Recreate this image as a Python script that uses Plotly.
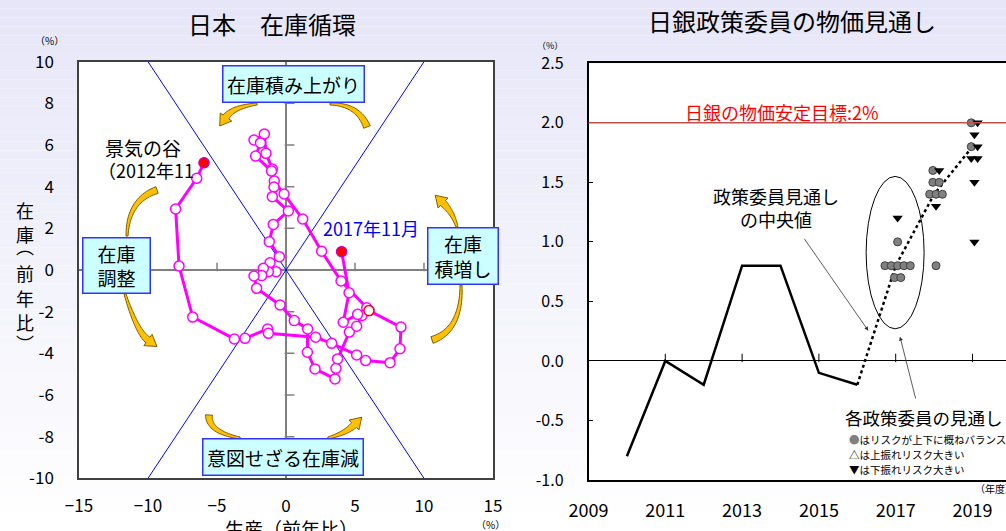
import plotly.graph_objects as go

W, H = 1006, 531
FONT = "Noto Sans CJK JP"

# ---------------- Data: left chart (Japan inventory cycle, 2012/11 -> 2017/11) -------------
prod_yoy = [-5.94, -6.47, -8.00, -7.75, -6.76, -3.74, -2.97, -1.33, -1.28, 2.15,
            3.31, 5.12, 5.77, 7.54, 8.26, 8.33, 6.01, 5.85, 3.99, 2.58,
            1.21, -0.14, -0.85, -0.99, -1.45, -1.57, -2.32, -1.85, -2.20, -1.05,
            -0.87, -0.99, 0.17, -0.92, -1.21, -0.48, -1.16, -0.72, -1.28, -1.64,
            -1.76, -2.32, -2.13, -0.43, 0.60, 1.57, 1.55, 2.10, 3.55, 3.62,
            3.74, 4.59, 5.12, 5.51, 5.19, 4.15, 4.57, 4.03]
inv_yoy = [5.15, 4.40, 2.93, 0.19, -2.26, -3.31, -3.28, -2.83, -3.04, -3.23,
           -3.52, -4.08, -4.35, -4.45, -3.78, -2.74, -1.95, -1.81, -0.53, 0.90,
           2.45, 3.65, 4.27, 4.85, 5.60, 6.53, 6.24, 6.10, 5.47, 4.75,
           3.98, 3.52, 2.83, 2.19, 1.36, 0.64, 0.35, -0.08, -0.08, 0.08,
           -0.27, -0.29, -0.88, -1.68, -2.43, -2.83, -3.95, -4.75, -5.23, -4.72,
           -4.27, -2.98, -2.70, -2.18, -2.13, -2.51, -1.09, 0.88]
ring_index = 16                      # point drawn with a red ring
diag_ends = [-10, 10]
left_xticks = [-15, -10, -5, 0, 5, 10, 15]
left_xtext = ["\u221215", "\u221210", "\u22125", "0", "5", "10", "15"]
left_yticks = [-10, -8, -6, -4, -2, 0, 2, 4, 6, 8, 10]
left_ytext = ["-10", "-8", "-6", "-4", "-2", "0", "2", "4", "6", "8", "10"]
zero_xticks = [-10, -5, 5, 10]
zero_yticks = [-8, -6, -4, -2, 2, 4, 6, 8]

# ---------------- Data: right chart (BoJ board price outlook) ----------------
fy_actual = [2010, 2011, 2012, 2013, 2014, 2015, 2016]
cpi_actual = [-0.8, 0.0, -0.2, 0.8, 0.8, -0.1, -0.2]
fy_median = [2017, 2018, 2019]
cpi_median = [0.8, 1.4, 1.8]
member_fy = [2017] * 9 + [2018] * 9 + [2019] * 9
member_val = [0.8, 0.8, 0.8, 0.8, 0.8, 0.7, 0.7, 1.0, 1.2,
              1.6, 1.6, 1.5, 1.5, 1.4, 1.4, 1.4, 1.3, 0.8,
              2.0, 2.0, 1.9, 1.8, 1.8, 1.7, 1.7, 1.5, 1.0]
member_risk = ["bal", "bal", "bal", "bal", "bal", "bal", "bal", "bal", "down",
               "bal", "down", "bal", "bal", "bal", "bal", "bal", "down", "bal",
               "bal", "down", "down", "bal", "down", "down", "down", "down", "down"]
target = 2.0
right_xticks = [2009, 2011, 2013, 2015, 2017, 2019]
right_yticks = [-1.0, -0.5, 0.0, 0.5, 1.0, 1.5, 2.0, 2.5]
right_ytext = ["-1.0", "-0.5", "0.0", "0.5", "1.0", "1.5", "2.0", "2.5"]
zero_year_ticks = [2011, 2013, 2015, 2017, 2019]


def PX(x):
    return x / W


def PY(y):
    return 1 - y / H


# plot areas (pixels)
L_X0, L_X1, L_Y0, L_Y1 = 79, 493, 61.7, 478.3
R_X0, R_X1, R_Y0, R_Y1 = 588.5, 1006, 63.3, 480
R_XMIN = 2009
R_XMAX = 2009 + (R_X1 - R_X0) / 38.4

fig = go.Figure()

# ---- left chart traces
fig.add_trace(go.Scatter(x=diag_ends, y=diag_ends, mode="lines",
                         line=dict(color="#0000FF", width=1), xaxis="x", yaxis="y", hoverinfo="skip"))
fig.add_trace(go.Scatter(x=diag_ends, y=diag_ends[::-1], mode="lines",
                         line=dict(color="#0000FF", width=1), xaxis="x", yaxis="y", hoverinfo="skip"))

# tick marks on the zero lines
lx_per_px = 30 / (L_X1 - L_X0)
ly_per_px = 20 / (L_Y1 - L_Y0)
fig.add_trace(go.Scatter(x=zero_xticks, y=[3 * ly_per_px] * len(zero_xticks), mode="markers",
                         marker=dict(symbol="line-ns", size=6, line=dict(color="#808080", width=1.5)),
                         xaxis="x", yaxis="y", hoverinfo="skip"))
fig.add_trace(go.Scatter(x=[3.5 * lx_per_px] * len(zero_yticks), y=zero_yticks, mode="markers",
                         marker=dict(symbol="line-ew", size=7, line=dict(color="#808080", width=1.5)),
                         xaxis="x", yaxis="y", hoverinfo="skip"))

fig.add_trace(go.Scatter(x=prod_yoy, y=inv_yoy, mode="lines+markers",
                         line=dict(color="#FF00FF", width=3),
                         marker=dict(symbol="circle", size=10, color="white",
                                     line=dict(color="#FF00FF", width=1.5)),
                         xaxis="x", yaxis="y", hoverinfo="skip"))
fig.add_trace(go.Scatter(x=[prod_yoy[ring_index]], y=[inv_yoy[ring_index]], mode="markers",
                         marker=dict(symbol="circle", size=10, color="white",
                                     line=dict(color="#FF0000", width=1.5)),
                         xaxis="x", yaxis="y", hoverinfo="skip"))
fig.add_trace(go.Scatter(x=[prod_yoy[0], prod_yoy[-1]], y=[inv_yoy[0], inv_yoy[-1]], mode="markers",
                         marker=dict(symbol="circle", size=10, color="#FF0000",
                                     line=dict(color="#C000C0", width=1)),
                         xaxis="x", yaxis="y", hoverinfo="skip"))

# ---- right chart traces
ry_per_px = 3.5 / (R_Y1 - R_Y0)
fig.add_trace(go.Scatter(x=zero_year_ticks, y=[3 * ry_per_px] * len(zero_year_ticks), mode="markers",
                         marker=dict(symbol="line-ns", size=6, line=dict(color="black", width=1)),
                         xaxis="x2", yaxis="y2", hoverinfo="skip"))
fig.add_trace(go.Scatter(x=fy_actual, y=cpi_actual, mode="lines",
                         line=dict(color="black", width=2.5), xaxis="x2", yaxis="y2", hoverinfo="skip"))
fig.add_trace(go.Scatter(x=[fy_actual[-1]] + fy_median, y=[cpi_actual[-1]] + cpi_median, mode="lines",
                         line=dict(color="black", width=2.5, dash="dot"),
                         xaxis="x2", yaxis="y2", hoverinfo="skip"))

# spread members with equal values side by side
spacing = 0.165
groups = {}
for i, (fy, v) in enumerate(zip(member_fy, member_val)):
    groups.setdefault((fy, v), []).append(i)
mx = [0.0] * len(member_fy)
for (fy, v), idx in groups.items():
    idx = sorted(idx, key=lambda k: 0 if member_risk[k] == "bal" else 1)
    n = len(idx)
    for j, k in enumerate(idx):
        mx[k] = fy + 0.05 + (j - (n - 1) / 2) * spacing
bal = [k for k in range(len(member_fy)) if member_risk[k] == "bal"]
down = [k for k in range(len(member_fy)) if member_risk[k] == "down"]
fig.add_trace(go.Scatter(x=[mx[k] for k in bal], y=[member_val[k] for k in bal], mode="markers",
                         marker=dict(symbol="circle", size=8, color="#808080",
                                     line=dict(color="#404040", width=1)),
                         xaxis="x2", yaxis="y2", hoverinfo="skip"))
fig.add_trace(go.Scatter(x=[mx[k] for k in down], y=[member_val[k] for k in down], mode="markers",
                         marker=dict(symbol="triangle-down", size=9, color="black",
                                     line=dict(width=0)),
                         xaxis="x2", yaxis="y2", hoverinfo="skip"))

# ---------------- background & decorations ----------------
shapes = []
nb = 60
c0 = (230, 230, 248)
for i in range(nb):
    t = i / (nb - 1)
    col = tuple(round(c0[k] + (255 - c0[k]) * t) for k in range(3))
    shapes.append(dict(type="rect", xref="paper", yref="paper", x0=0, x1=1,
                       y0=1 - (i + 1) / nb, y1=1 - i / nb, fillcolor="rgb(%d,%d,%d)" % col,
                       line=dict(width=0), layer="below"))
for (a, b, c, d) in [(L_X0, L_X1, L_Y0, L_Y1), (R_X0, R_X1, R_Y0, R_Y1)]:
    shapes.append(dict(type="rect", xref="paper", yref="paper", x0=PX(a), x1=PX(b),
                       y0=PY(d), y1=PY(c), fillcolor="white", line=dict(width=0), layer="below"))

# target line and ellipse (right chart)
shapes.append(dict(type="line", xref="x2 domain", yref="y2", x0=0, x1=1, y0=target, y1=target,
                   line=dict(color="#C0504D", width=1.5)))
shapes.append(dict(type="circle", xref="x2", yref="y2", x0=2016.23, x1=2017.74, y0=0.27, y1=1.55,
                   line=dict(color="black", width=1)))


# curved gold arrows (pixel geometry)
def band(p_box, ctrl, p_far, head, w0=2.0, w1=7.0, hl=11, hw=7):
    import math
    left, right = [], []
    n = 24
    for i in range(n + 1):
        t = i / n
        bx = (1 - t) ** 2 * p_box[0] + 2 * (1 - t) * t * ctrl[0] + t ** 2 * p_far[0]
        by = (1 - t) ** 2 * p_box[1] + 2 * (1 - t) * t * ctrl[1] + t ** 2 * p_far[1]
        dx = 2 * (1 - t) * (ctrl[0] - p_box[0]) + 2 * t * (p_far[0] - ctrl[0])
        dy = 2 * (1 - t) * (ctrl[1] - p_box[1]) + 2 * t * (p_far[1] - ctrl[1])
        ln = math.hypot(dx, dy)
        nx, ny = -dy / ln, dx / ln
        w = (w0 + (w1 - w0) * t) / 2
        left.append((bx + nx * w, by + ny * w))
        right.append((bx - nx * w, by - ny * w))
        ux, uy = dx / ln, dy / ln
    pts = left[:]
    if head:
        ex, ey = p_far
        pts += [(ex + nx * hw, ey + ny * hw), (ex + ux * hl, ey + uy * hl), (ex - nx * hw, ey - ny * hw)]
    pts += right[::-1]
    path = "M " + " L ".join("%.5f,%.5f" % (PX(x), PY(y)) for x, y in pts) + " Z"
    return dict(type="path", xref="paper", yref="paper", path=path,
                fillcolor="#FFC000", line=dict(color="#7F6000", width=1))


arrows = [
    ((257, 104), (233, 107), (226, 117), True),
    ((330, 104), (358, 104), (367, 127), False),
    ((127, 236), (128, 200), (157, 190), False),
    ((125, 294), (137, 332), (148, 340), True),
    ((240, 438), (208, 432), (209, 415), False),
    ((328, 438), (345.6, 433.4), (354, 425), True),
    ((461, 285), (462, 330), (432, 340), False),
    ((457, 227), (453, 213), (443, 203), True),
]
for a in arrows:
    shapes.append(band(*a))

# ---------------- annotations ----------------
ann = []


def text(x, y, s, size, color="black", xanchor="center", yanchor="middle", **kw):
    d = dict(xref="paper", yref="paper", x=PX(x), y=PY(y), text=s, showarrow=False,
             xanchor=xanchor, yanchor=yanchor, font=dict(family=FONT, size=size, color=color))
    d.update(kw)
    ann.append(d)


text(272, 23, "日本\u3000在庫循環", 24)
text(792, 21, "日銀政策委員の物価見通し", 24)
text(49, 40, "（%）", 10)
text(550, 45, "（%）", 9)
text(490, 524, "（%）", 10)
# vertical y-axis title, one glyph per line
for ch, yy in [("在", 210), ("庫", 234), ("︵", 246), ("前", 273), ("年", 298), ("比", 322), ("︶", 343)]:
    text(25, yy, ch, 18)
text(291, 528, "生産（前年比）", 19)

# left chart labels
text(142.5, 147, "景気の谷", 19)
text(96, 170, "（2012年11", 18, xanchor="left")
text(371, 228, "2017年11月", 18, color="#0000FF")

boxstyle = dict(bgcolor="#CCFFFF", bordercolor="#3333FF", borderwidth=1.5, borderpad=0)
text(293.5, 84.3, "在庫積み上がり", 19, width=140, height=35, **boxstyle)
text(116.8, 265.3, "在庫<br>調整", 19, width=66, height=54, **boxstyle)
text(463, 256, "在庫<br>積増し", 19, width=69, height=55, **boxstyle)
text(282.8, 456.7, "意図せざる在庫減", 19, width=159, height=35, **boxstyle)

# right chart labels
text(782, 112, "日銀の物価安定目標:2%", 18, color="#FF0000")
text(776, 207.5, "政策委員見通し<br>の中央値", 18)
text(924, 417, "各政策委員の見通し", 17.5)
text(847, 439, "<span style='color:#808080'>●</span>はリスクが上下に概ねバランス", 10.5, xanchor="left")
text(847, 454.3, "△は上振れリスク大きい", 10.5, xanchor="left")
text(847, 469.3, "▼は下振れリスク大きい", 10.5, xanchor="left")
text(973, 488, "（年度）", 10, xanchor="left")

for (hx, hy, tx, ty) in [(868.3, 330.7, 803.3, 237.3), (900, 336.7, 916, 400)]:
    ann.append(dict(xref="paper", yref="paper", x=PX(hx), y=PY(hy), ax=tx - hx, ay=ty - hy,
                    text="", showarrow=True, arrowhead=2, arrowsize=1, arrowwidth=0.8,
                    arrowcolor="#333333"))

fig.update_layout(
    width=W, height=H, margin=dict(l=0, r=0, t=0, b=0, autoexpand=False),
    paper_bgcolor="white", plot_bgcolor="white", showlegend=False,
    font=dict(family=FONT, color="black"),
    shapes=shapes, annotations=ann,
    xaxis=dict(domain=[PX(L_X0), PX(L_X1)], anchor="y", range=[-15, 15],
               tickmode="array", tickvals=left_xticks, ticktext=left_xtext,
               showline=True, mirror=True, linecolor="#404040", linewidth=1.5,
               showgrid=False, zeroline=True, zerolinecolor="#808080", zerolinewidth=2,
               ticks="", tickfont=dict(size=17), ticklabelstandoff=12, fixedrange=True),
    yaxis=dict(domain=[PY(L_Y1), PY(L_Y0)], anchor="x", range=[-10, 10],
               tickmode="array", tickvals=left_yticks, ticktext=left_ytext,
               showline=True, mirror=True, linecolor="#404040", linewidth=1.5,
               showgrid=False, zeroline=True, zerolinecolor="#808080", zerolinewidth=2,
               ticks="", tickfont=dict(size=17), ticklabelstandoff=20, fixedrange=True),
    xaxis2=dict(domain=[PX(R_X0), PX(R_X1)], anchor="y2", range=[R_XMIN, R_XMAX],
                tickmode="array", tickvals=right_xticks,
                showline=True, mirror=True, linecolor="black", linewidth=1.5,
                showgrid=False, zeroline=False, ticks="", tickfont=dict(size=18),
                ticklabelstandoff=14, fixedrange=True),
    yaxis2=dict(domain=[PY(R_Y1), PY(R_Y0)], anchor="x2", range=[-1, 2.5],
                tickmode="array", tickvals=right_yticks, ticktext=right_ytext,
                showline=True, mirror=False, linecolor="black", linewidth=1.5,
                showgrid=False, zeroline=True, zerolinecolor="black", zerolinewidth=1,
                ticks="inside", ticklen=5, tickcolor="black", tickfont=dict(size=16),
                ticklabelstandoff=20, fixedrange=True),
)

fig.write_html("out.html")
